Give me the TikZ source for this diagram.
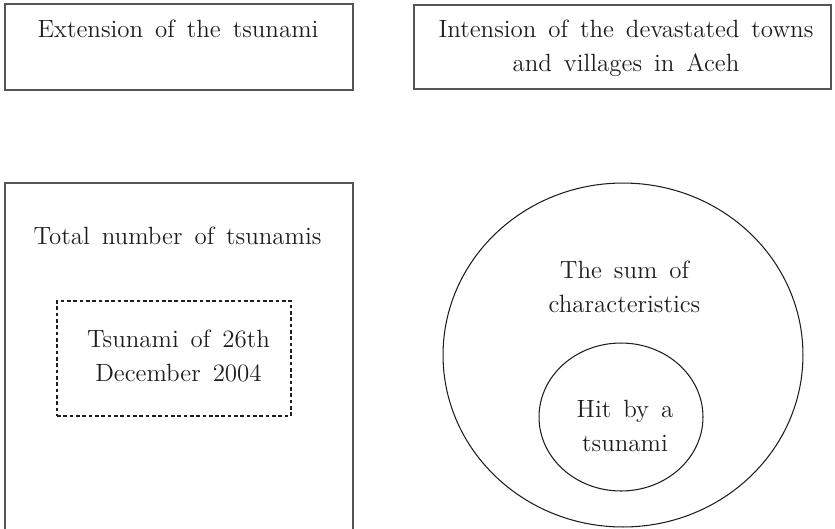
\documentclass[tikz,border=0pt]{standalone}
\usepackage{tikz}
\usetikzlibrary{positioning, shapes.geometric}
\definecolor{framegray}{RGB}{85,85,85}
\definecolor{inkdark}{RGB}{30,30,30}
\newcommand{\widewords}{\spaceskip 0.48em\relax}

\tikzset{
  frame/.style={draw=framegray, line width=0.75pt, rectangle, inner sep=0pt},
  dashframe/.style={draw=inkdark, line width=0.6pt, rectangle, inner sep=0pt, dash pattern=on 2.1pt off 1.5pt},
  ring/.style={draw=inkdark, line width=0.6pt, ellipse, inner sep=0pt},
  lbl/.style={inner sep=0pt, anchor=north, align=center, text=inkdark, font={\fontsize{14.2}{19.3}\selectfont\widewords}}
}

\begin{document}
\begin{tikzpicture}[x=0.02cm, y=-0.02cm]
  \useasboundingbox (0,0) rectangle (835,528);
  \clip (0,0) rectangle (835,528);
  % top row: extension and intension
  \node[frame, minimum width=6.96cm, minimum height=1.72cm] (ext) at (179,47) {};
  \node[lbl] (exttext) at (178,19.6) {Extension of the tsunami};
  \node[frame, minimum width=8.34cm, minimum height=1.68cm] (int) at (622.5,47) {};
  \node[lbl] (inttext) at (626,19.6) {Intension of the devastated towns\\and villages in Aceh};
  % bottom left: the set of tsunamis
  \node[frame, minimum width=6.96cm, minimum height=7.54cm] (total) at (179,371.5) {};
  \node[lbl] (totaltext) at (177.5,226.6) {Total number of tsunamis};
  \node[dashframe, minimum width=4.68cm, minimum height=2.3cm] (aceh) at (174,358.5) {};
  \node[lbl] (acehtext) at (178.5,329.6) {Tsunami of 26th\\December 2004};
  % bottom right: the characteristics
  \node[ring, minimum width=7.2cm, minimum height=6.88cm] (sum) at (623,355) {};
  \node[lbl] (sumtext) at (624.5,260.6) {The sum of\\characteristics};
  \node[ring, minimum width=3.28cm, minimum height=2.96cm] (hit) at (621,417) {};
  \node[lbl] (hittext) at (625,399.6) {Hit by a\\tsunami};
\end{tikzpicture}
\end{document}
